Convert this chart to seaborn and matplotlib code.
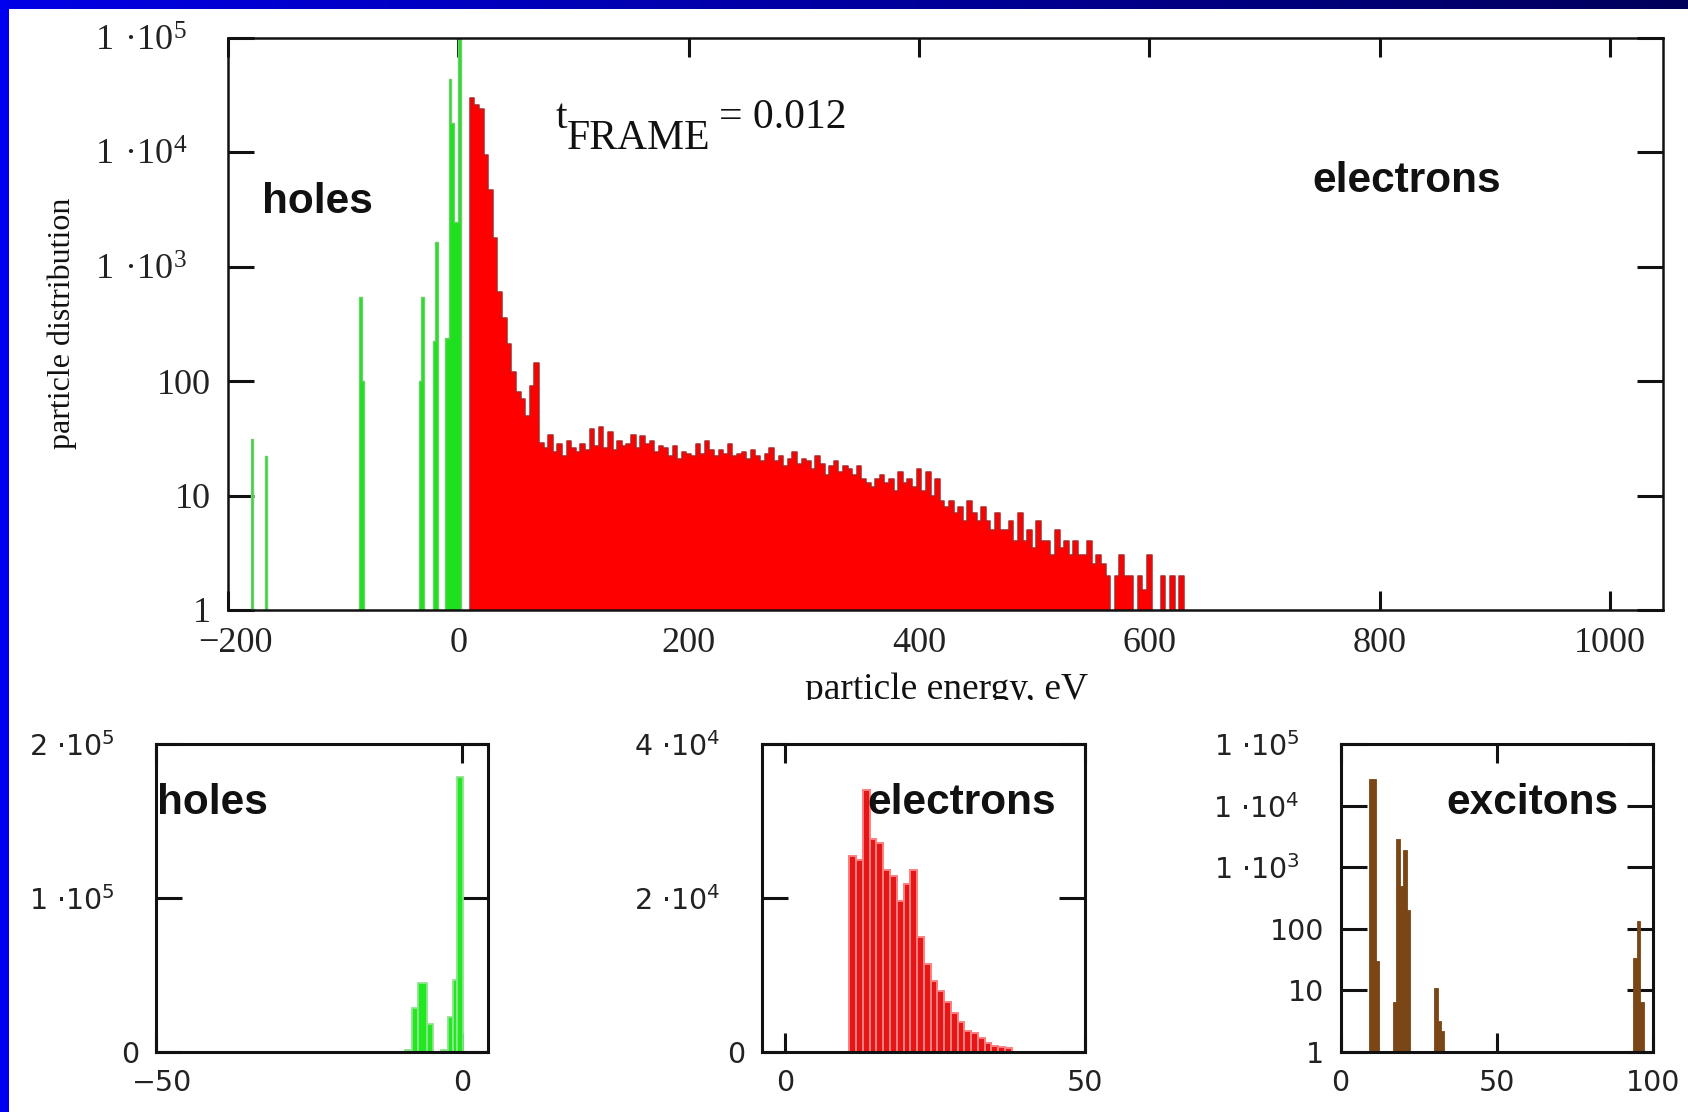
import numpy as np
import pandas as pd
import matplotlib.pyplot as plt
import seaborn as sns
from matplotlib.colors import LinearSegmentedColormap
from matplotlib.patches import Rectangle
from matplotlib.transforms import Bbox, ScaledTranslation

# Werte

# Hauptbild, Löcher: Klassenmitten (eV), 2 eV breit
hole_energy = [-179, -167, -85, -83, -33, -31, -21, -19, -11, -9, -7, -5, -3, -1, 1]
hole_count = [31, 22, 545, 100, 100, 545, 225, 1650, 240, 240, 44000, 18000, 2450, 2450, 185000]

# Hauptbild, Elektronen: 4 eV Klassen ab 10 eV
el_count = [
    30000, 26000, 24000, 9500, 4700, 1800, 600, 360, 210, 120,
    80, 70, 50, 90, 145, 29, 26, 34, 24, 28,
    22, 30, 26, 24, 28, 25, 38, 27, 40, 26,
    36, 25, 30, 27, 28, 34, 26, 33, 28, 30,
    24, 27, 26, 22, 27, 21, 24, 23, 22, 28,
    23, 30, 25, 22, 25, 23, 28, 22, 23, 24,
    21, 25, 22, 20, 23, 26, 20, 22, 18, 21,
    24, 19, 21, 20, 17, 22, 19, 15, 18, 20,
    16, 18, 17, 15, 18, 14, 13, 12, 14, 15,
    13, 14, 11, 16, 13, 14, 12, 17, 11, 16,
    10, 14, 9, 8, 9, 7, 8, 6, 9, 7,
    6, 8, 6, 5, 7, 5, 5, 6, 4, 7,
    4, 5, 3.5, 6, 4, 4, 3, 5, 3.5, 4,
    3, 4, 3, 3, 4, 2.5, 3, 2.5, 2, 0,
    2, 3, 2, 2, 0, 2, 1.5, 3, 0, 0,
    2, 0, 2, 0, 2,
]
el_start, el_width = 10, 4

# kleines Bild links: Löcher (lineare Achse)
ih_edges = [-9.3, -8.2, -7.2, -5.8, -4.7, -3.4, -2.3, -1.5, -0.8, 0.1]
ih_count = [1500, 28600, 44600, 18200, 0, 1500, 22900, 46700, 178800]

# kleines Bild Mitte: Elektronen, Klassen 1.13 eV ab 10.7 eV
ie_count = [25400, 25000, 34000, 27600, 27200, 23600, 22900, 19600, 21800, 23600,
            15000, 11400, 9250, 7950, 6450, 5050, 3950, 2700, 2500, 1800,
            1200, 800, 600, 500]
ie_start, ie_width = 10.7, 1.13

# kleines Bild rechts: Exzitonen, Klassen 1.1 eV ab 9.1 eV
ix_energy = [9.65, 10.75, 11.85, 17.35, 18.45, 19.55, 20.65, 21.75,
             30.55, 31.65, 32.75, 94.35, 95.45, 96.55]
ix_count = [27000, 27000, 30, 6.6, 2870, 500, 1900, 200, 11, 3.2, 2.2, 34, 132, 6.6]
ix_start, ix_width, ix_nbins = 9.1, 1.1, 81


def sup(m, e):
    return r'$\mathregular{%d\ ·10^{%d}}$' % (m, e)


main_xticks = [-200, 0, 200, 400, 600, 800, 1000]
main_xlabels = ['−200', '0', '200', '400', '600', '800', '1000']
log_ticks = [1, 10, 100, 1e3, 1e4, 1e5]
log_labels = ['1', '10', '100', sup(1, 3), sup(1, 4), sup(1, 5)]

# style
sns.set_theme(style="white")
plt.rcParams['font.family'] = ['Liberation Serif', 'DejaVu Sans']
plt.rcParams['axes.unicode_minus'] = True

W, H = 1688, 1112
fig = plt.figure(figsize=(W / 100, H / 100), dpi=100, facecolor='white')


def box(l, t, r, b):
    return [l / W, 1 - b / H, (r - l) / W, (b - t) / H]


def hist(ax, energy, count, edges, **kw):
    df = pd.DataFrame({'energy': list(energy), 'count': list(count)})
    sns.histplot(data=df, x='energy', weights='count', bins=[float(e) for e in edges],
                 fill=True, alpha=1, ax=ax, **kw)


def shift(label, dx_px):
    label.set_transform(label.get_transform() + ScaledTranslation(dx_px / 100, 0, fig.dpi_scale_trans))


def mathcad_axes(ax, spine_w, fam, size):
    ax.set_facecolor('white')
    ax.grid(False)
    for s in ax.spines.values():
        s.set_visible(True)
        s.set_color('#111111')
        s.set_linewidth(spine_w)
    ax.tick_params(which='major', direction='in', bottom=True, top=True,
                   left=True, right=True, width=2.2, color='#111111',
                   labelcolor='#222222', labelsize=size,
                   labelfontfamily=fam, pad=12)
    ax.tick_params(axis='x', length=14)
    ax.tick_params(axis='y', length=19)
    ax.minorticks_off()
    ax.set_xlabel('')
    ax.set_ylabel('')
    ax.set_axisbelow(True)


def set_yticks(ax, ticks, labels):
    ax.set_yticks(ticks, labels)
    ax.minorticks_off()
    # Potenz-Beschriftungen stehen weiter links
    for lab in ax.get_yticklabels():
        if '10^' in lab.get_text():
            shift(lab, -24)


label_kw = dict(fontsize=30.5, fontweight='bold', family=['Liberation Sans'],
                color='#111111', va='center', ha='left')

#############################
# Hauptbild
#############################
ax = fig.add_axes(box(228, 38, 1663, 610))
hist(ax, hole_energy, hole_count, np.arange(-200, 3, 2),
     element='step', facecolor='#1fe01f', edgecolor='#6fcc6f', linewidth=1.0)
el_edges = el_start + el_width * np.arange(len(el_count) + 1)
hist(ax, el_edges[:-1] + el_width / 2, el_count, el_edges,
     element='step', facecolor='#ff0000', edgecolor='#b52222', linewidth=1.1)
ax.set_yscale('log')
ax.set_xlim(-200, 1046)
ax.set_ylim(1, 1e5)
mathcad_axes(ax, 1.8, ['Liberation Serif'], 26)
ax.set_xticks(main_xticks, main_xlabels)
shift(ax.get_xticklabels()[0], 7)
set_yticks(ax, log_ticks, log_labels)

ax.text(0.0234, 0.713, 'holes', transform=ax.transAxes, **label_kw)
ax.text(0.756, 0.75, 'electrons', transform=ax.transAxes, **label_kw)
tkw = dict(transform=ax.transAxes, fontsize=30, family=['Liberation Serif'],
           color='#111111', va='baseline', ha='left')
ax.text(0.2286, 0.842, 't', **tkw)
ax.text(0.2364, 0.8066, 'FRAME', **tkw)
ax.text(0.342, 0.842, '= 0.012', **tkw)

xl = fig.text(947 / W, 1 - 699 / H, 'particle energy, eV', ha='center',
              va='baseline', fontsize=27, family=['Liberation Serif'], color='#111111')
xl.set_clip_box(Bbox.from_extents(0, H - 700, W, H))
xl.set_clip_on(True)
fig.text(62 / W, 1 - 323 / H, 'particle distribution', rotation=90, ha='center',
         va='center', fontsize=23, family=['Liberation Serif'], color='#111111')

#############################
# kleine Bilder
#############################
sans = ['DejaVu Sans']

# Löcher
a1 = fig.add_axes(box(156, 744, 488, 1052))
ih_mid = [(ih_edges[i] + ih_edges[i + 1]) / 2 for i in range(len(ih_count))]
hist(a1, ih_mid, ih_count, ih_edges, element='bars',
     facecolor='#22e822', edgecolor='#8ee48e', linewidth=1.3)
a1.set_xlim(-50, 4.2)
a1.set_ylim(0, 2e5)
mathcad_axes(a1, 2.2, sans, 20.5)
a1.set_xticks([-50, 0], ['−50', '0'])
shift(a1.get_xticklabels()[0], 6)
set_yticks(a1, [0, 1e5, 2e5], ['0', sup(1, 5), sup(2, 5)])
a1.text(0.003, 0.81, 'holes', transform=a1.transAxes, **label_kw)

# Elektronen
a2 = fig.add_axes(box(761.5, 744, 1084.5, 1052))
ie_edges = ie_start + ie_width * np.arange(len(ie_count) + 1)
hist(a2, ie_edges[:-1] + ie_width / 2, ie_count, ie_edges, element='bars',
     facecolor='#e41616', edgecolor='#ff7f7f', linewidth=1.4)
a2.set_xlim(-4, 50)
a2.set_ylim(0, 4e4)
mathcad_axes(a2, 2.2, sans, 20.5)
a2.set_xticks([0, 50], ['0', '50'])
set_yticks(a2, [0, 2e4, 4e4], ['0', sup(2, 4), sup(4, 4)])
a2.text(0.328, 0.81, 'electrons', transform=a2.transAxes, **label_kw)

# Exzitonen
a3 = fig.add_axes(box(1340.5, 744, 1652.7, 1052))
ix_edges = ix_start + ix_width * np.arange(ix_nbins + 1)
hist(a3, ix_energy, ix_count, ix_edges, element='bars',
     facecolor='#7b4616', edgecolor='#7b4616', linewidth=0.6)
a3.set_yscale('log')
a3.set_xlim(0, 100)
a3.set_ylim(1, 1e5)
mathcad_axes(a3, 2.2, sans, 20.5)
a3.set_xticks([0, 50, 100], ['0', '50', '100'])
set_yticks(a3, log_ticks, log_labels)
a3.text(0.34, 0.81, 'excitons', transform=a3.transAxes, **label_kw)

# blauer Rahmen (Folienhintergrund)
band = fig.add_axes([0, 1 - 9 / H, 1, 9 / H])
band.imshow(np.linspace(0, 1, 256)[None, :], aspect='auto',
            cmap=LinearSegmentedColormap.from_list('frame', ['#0000e6', '#00005a']))
band.set_axis_off()
fig.add_artist(Rectangle((0, 0), 9 / W, 1, transform=fig.transFigure,
                         facecolor='#0000f0', edgecolor='none', zorder=5))

fig.savefig('out.png', dpi=100, facecolor='white')
plt.close()
